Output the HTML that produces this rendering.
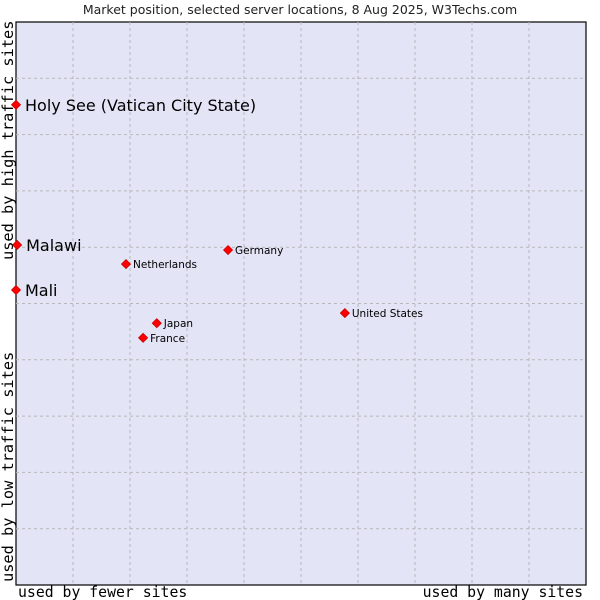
<!DOCTYPE html>
<html><head><meta charset="utf-8"><style>
body{margin:0;background:#fff}
svg{display:block}
</style></head><body>
<svg id="chart" width="600" height="600" xmlns="http://www.w3.org/2000/svg">
<rect x="0" y="0" width="600" height="600" fill="#fff"/>
<text x="300" y="14" text-anchor="middle" font-family="DejaVu Sans, sans-serif" font-size="12.5" fill="#222">Market position, selected server locations, 8 Aug 2025, W3Techs.com</text>
<rect x="16" y="22" width="570" height="563" fill="#e3e5f7" stroke="#000" stroke-width="1.2"/>
<g id="grid"></g>
<g id="points"></g>
<text x="18" y="597" font-family="DejaVu Sans Mono, monospace" font-size="14.8" fill="#000">used by fewer sites</text>
<text x="583" y="597" text-anchor="end" font-family="DejaVu Sans Mono, monospace" font-size="14.8" fill="#000">used by many sites</text>
<text transform="translate(13,260) rotate(-90)" font-family="DejaVu Sans Mono, monospace" font-size="15.3" fill="#000">used by high traffic sites</text>
<text transform="translate(13,582) rotate(-90)" font-family="DejaVu Sans Mono, monospace" font-size="15.3" fill="#000">used by low traffic sites</text>
</svg>
<script>
const names = ["Holy See (Vatican City State)","Malawi","Mali","Netherlands","Germany","United States","Japan","France"];
const xValues = [0,0.2,0,19.3,37.2,57.7,24.7,22.3];
const yValues = [85.3,60.4,52.4,57.0,59.5,48.3,46.5,43.9];
const bigLabel = [true,true,true,false,false,false,false,false];
const L=16,T=22,W=570,H=563;
const xs=v=>L+v/100*W, ys=v=>T+H-v/100*H;
const NS="http://www.w3.org/2000/svg";
const grid=document.getElementById('grid');
for(let i=1;i<10;i++){
  const v=document.createElementNS(NS,'line');
  
  
  const x=xs(i*10);
  v.setAttribute('x1',x);v.setAttribute('x2',x);v.setAttribute('y1',T);v.setAttribute('y2',T+H);
  v.setAttribute('stroke','#b8b8b8');v.setAttribute('stroke-dasharray','3,3');
  grid.appendChild(v);
  const h=document.createElementNS(NS,'line');
  
  
  const y=ys(i*10);
  h.setAttribute('x1',L);h.setAttribute('x2',L+W);h.setAttribute('y1',y);h.setAttribute('y2',y);
  h.setAttribute('stroke','#b8b8b8');h.setAttribute('stroke-dasharray','3,3');
  grid.appendChild(h);
}
const pts=document.getElementById('points');
names.forEach((n,i)=>{
  const x=xs(xValues[i]),y=ys(yValues[i]);
  const c=document.createElementNS(NS,'path');
  
  
  c.setAttribute('d',`M${x-4.5},${y}L${x},${y-4.5}L${x+4.5},${y}L${x},${y+4.5}Z`);
  c.setAttribute('fill','#ff0000');c.setAttribute('stroke','#c00');c.setAttribute('stroke-width','0.8');
  pts.appendChild(c);
  const t=document.createElementNS(NS,'text');
  
  
  t.setAttribute('x',x+(bigLabel[i]?9:7));
  t.setAttribute('y',y+(bigLabel[i]?6:4));
  t.setAttribute('font-family','DejaVu Sans, sans-serif');
  t.setAttribute('font-size',bigLabel[i]?'16':'10.5');
  t.setAttribute('fill','#000');
  t.textContent=n;
  pts.appendChild(t);
});
</script>
</body></html>
